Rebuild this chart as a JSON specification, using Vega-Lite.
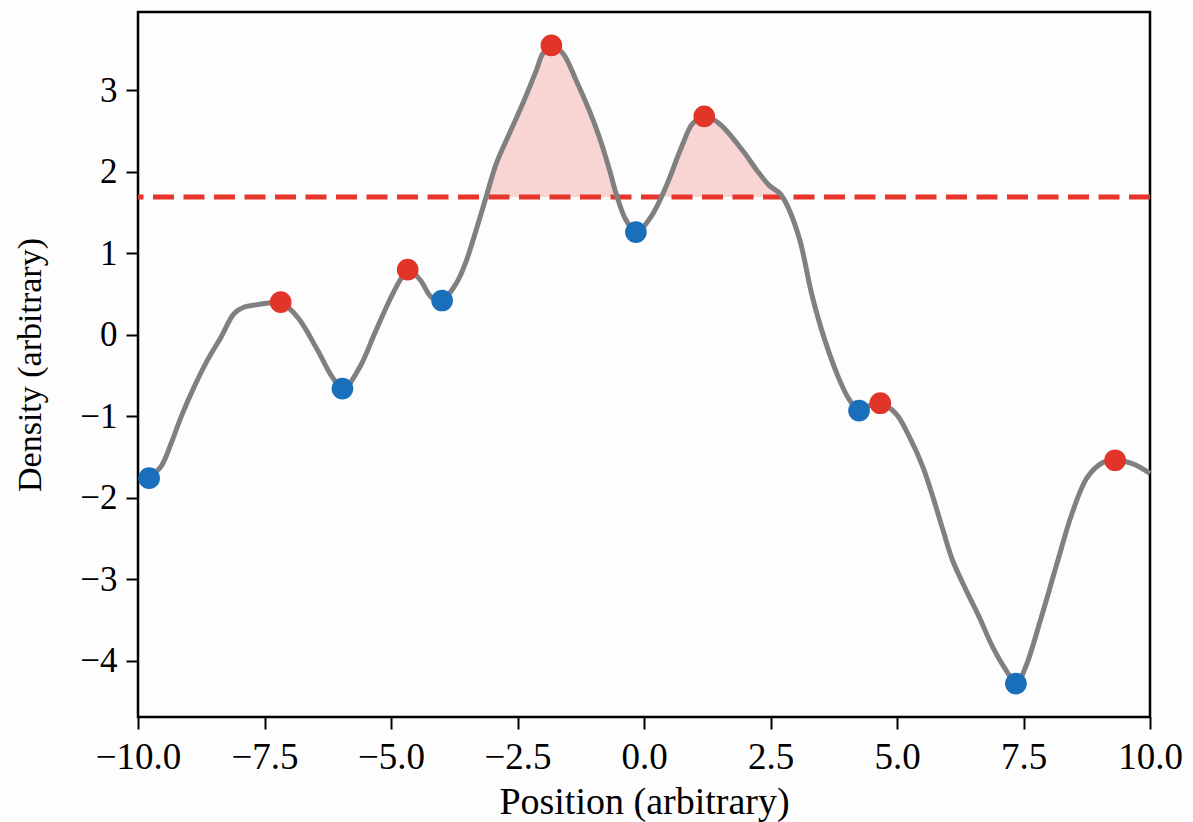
{
  "$schema": "https://vega.github.io/schema/vega-lite/v6.json",
  "width": 1012,
  "height": 705,
  "autosize": {"type": "none"},
  "padding": {"left": 138, "top": 12, "right": 43, "bottom": 105},
  "background": "#fdfdfd",
  "config": {
    "view": {"stroke": "black", "strokeWidth": 2.5, "fill": "#fdfdfd"},
    "axis": {
      "labelFont": "Liberation Serif",
      "titleFont": "Liberation Serif",
      "titleFontWeight": "normal",
      "labelColor": "black",
      "titleColor": "black",
      "tickColor": "black",
      "tickWidth": 2,
      "tickSize": 12,
      "labelFlush": false,
      "labelOverlap": false,
      "domain": false,
      "grid": false
    }
  },
  "datasets": {
    "curve": [
      {"x": -9.8, "y": -1.76},
      {"x": -9.55, "y": -1.62},
      {"x": -9.35, "y": -1.34},
      {"x": -9.15, "y": -1.01},
      {"x": -8.89, "y": -0.64},
      {"x": -8.63, "y": -0.315},
      {"x": -8.36, "y": -0.03},
      {"x": -8.1, "y": 0.26},
      {"x": -7.9, "y": 0.34},
      {"x": -7.64, "y": 0.37},
      {"x": -7.31, "y": 0.4},
      {"x": -7.18, "y": 0.4},
      {"x": -6.84, "y": 0.21},
      {"x": -6.45, "y": -0.19},
      {"x": -6.16, "y": -0.52},
      {"x": -5.94, "y": -0.66},
      {"x": -5.62, "y": -0.4},
      {"x": -5.32, "y": 0.02},
      {"x": -5.03, "y": 0.42},
      {"x": -4.79, "y": 0.7},
      {"x": -4.65, "y": 0.8},
      {"x": -4.42, "y": 0.67},
      {"x": -4.2, "y": 0.46},
      {"x": -4.0, "y": 0.42},
      {"x": -3.71, "y": 0.63},
      {"x": -3.51, "y": 0.91},
      {"x": -3.32, "y": 1.28},
      {"x": -3.12, "y": 1.69},
      {"x": -2.92, "y": 2.1},
      {"x": -2.66, "y": 2.47},
      {"x": -2.4, "y": 2.83},
      {"x": -2.13, "y": 3.24},
      {"x": -2.0, "y": 3.45},
      {"x": -1.82, "y": 3.55},
      {"x": -1.6, "y": 3.45},
      {"x": -1.34, "y": 3.12},
      {"x": -1.08, "y": 2.75},
      {"x": -0.88, "y": 2.42},
      {"x": -0.68, "y": 2.02},
      {"x": -0.55, "y": 1.73},
      {"x": -0.35, "y": 1.4},
      {"x": -0.15, "y": 1.26},
      {"x": 0.13, "y": 1.44},
      {"x": 0.43, "y": 1.81},
      {"x": 0.74, "y": 2.3},
      {"x": 0.96, "y": 2.59},
      {"x": 1.2, "y": 2.68},
      {"x": 1.49, "y": 2.59},
      {"x": 1.95, "y": 2.26},
      {"x": 2.24, "y": 2.01},
      {"x": 2.48, "y": 1.83},
      {"x": 2.69, "y": 1.73},
      {"x": 2.85, "y": 1.56},
      {"x": 3.08, "y": 1.16},
      {"x": 3.31, "y": 0.51},
      {"x": 3.53, "y": 0.02},
      {"x": 3.84, "y": -0.52},
      {"x": 4.06, "y": -0.8},
      {"x": 4.25, "y": -0.93},
      {"x": 4.45, "y": -0.87},
      {"x": 4.67, "y": -0.84},
      {"x": 4.98, "y": -0.97},
      {"x": 5.25, "y": -1.26},
      {"x": 5.51, "y": -1.62},
      {"x": 5.71, "y": -1.99},
      {"x": 5.91, "y": -2.4},
      {"x": 6.1, "y": -2.77},
      {"x": 6.37, "y": -3.14},
      {"x": 6.63, "y": -3.47},
      {"x": 6.89, "y": -3.83},
      {"x": 7.16, "y": -4.12},
      {"x": 7.36, "y": -4.28},
      {"x": 7.54, "y": -4.08},
      {"x": 7.85, "y": -3.47},
      {"x": 8.16, "y": -2.81},
      {"x": 8.46, "y": -2.19},
      {"x": 8.76, "y": -1.75},
      {"x": 9.06, "y": -1.57},
      {"x": 9.3, "y": -1.54},
      {"x": 9.65, "y": -1.58},
      {"x": 10.0, "y": -1.7}
    ],
    "fill": [
      {"seg": "A", "x": -3.12, "y": 1.69},
      {"seg": "A", "x": -2.92, "y": 2.1},
      {"seg": "A", "x": -2.66, "y": 2.47},
      {"seg": "A", "x": -2.4, "y": 2.83},
      {"seg": "A", "x": -2.13, "y": 3.24},
      {"seg": "A", "x": -2.0, "y": 3.45},
      {"seg": "A", "x": -1.82, "y": 3.55},
      {"seg": "A", "x": -1.6, "y": 3.45},
      {"seg": "A", "x": -1.34, "y": 3.12},
      {"seg": "A", "x": -1.08, "y": 2.75},
      {"seg": "A", "x": -0.88, "y": 2.42},
      {"seg": "A", "x": -0.68, "y": 2.02},
      {"seg": "A", "x": -0.55, "y": 1.73},
      {"seg": "A", "x": -0.53, "y": 1.69},
      {"seg": "B", "x": 0.33, "y": 1.69},
      {"seg": "B", "x": 0.43, "y": 1.81},
      {"seg": "B", "x": 0.74, "y": 2.3},
      {"seg": "B", "x": 0.96, "y": 2.59},
      {"seg": "B", "x": 1.2, "y": 2.68},
      {"seg": "B", "x": 1.49, "y": 2.59},
      {"seg": "B", "x": 1.95, "y": 2.26},
      {"seg": "B", "x": 2.24, "y": 2.01},
      {"seg": "B", "x": 2.48, "y": 1.83},
      {"seg": "B", "x": 2.69, "y": 1.73},
      {"seg": "B", "x": 2.73, "y": 1.69}
    ],
    "extrema": [
      {"kind": "max", "x": -7.18, "y": 0.4},
      {"kind": "max", "x": -4.67, "y": 0.8},
      {"kind": "max", "x": -1.83, "y": 3.55},
      {"kind": "max", "x": 1.19, "y": 2.68},
      {"kind": "max", "x": 4.67, "y": -0.84},
      {"kind": "max", "x": 9.31, "y": -1.54},
      {"kind": "min", "x": -9.78, "y": -1.76},
      {"kind": "min", "x": -5.96, "y": -0.66},
      {"kind": "min", "x": -3.99, "y": 0.42},
      {"kind": "min", "x": -0.16, "y": 1.26},
      {"kind": "min", "x": 4.25, "y": -0.93},
      {"kind": "min", "x": 7.35, "y": -4.28}
    ]
  },
  "layer": [
    {
      "data": {"name": "fill"},
      "mark": {"type": "area", "color": "#e8352b", "opacity": 0.2, "interpolate": "catmull-rom"},
      "encoding": {
        "x": {"field": "x", "type": "quantitative",
          "scale": {"domain": [-10, 10], "nice": false, "zero": false},
          "axis": {"values": [-10, -7.5, -5, -2.5, 0, 2.5, 5, 7.5, 10], "format": ".1f", "title": "Position (arbitrary)", "labelFontSize": 37, "titleFontSize": 38, "labelPadding": 10, "titlePadding": 8}},
        "y": {"field": "y", "type": "quantitative",
          "scale": {"domain": [-4.69, 3.96], "nice": false, "zero": false},
          "axis": {"values": [-4, -3, -2, -1, 0, 1, 2, 3], "format": "d", "title": "Density (arbitrary)", "labelFontSize": 35, "titleFontSize": 34, "labelPadding": 9, "titlePadding": 32}},
        "y2": {"datum": 1.69},
        "detail": {"field": "seg"}
      }
    },
    {
      "data": {"values": [{}]},
      "mark": {"type": "rule", "color": "#e8352b", "strokeWidth": 5, "strokeDash": [21, 9.5]},
      "encoding": {"y": {"datum": 1.69, "type": "quantitative"}}
    },
    {
      "data": {"name": "curve"},
      "mark": {"type": "line", "color": "#808080", "strokeWidth": 5, "interpolate": "catmull-rom"},
      "encoding": {
        "x": {"field": "x", "type": "quantitative"},
        "y": {"field": "y", "type": "quantitative"}
      }
    },
    {
      "data": {"name": "extrema"},
      "mark": {"type": "circle", "size": 470, "opacity": 1},
      "encoding": {
        "x": {"field": "x", "type": "quantitative"},
        "y": {"field": "y", "type": "quantitative"},
        "color": {"field": "kind", "type": "nominal",
          "scale": {"domain": ["max", "min"], "range": ["#e2352a", "#1a6fbb"]},
          "legend": null}
      }
    }
  ]
}
